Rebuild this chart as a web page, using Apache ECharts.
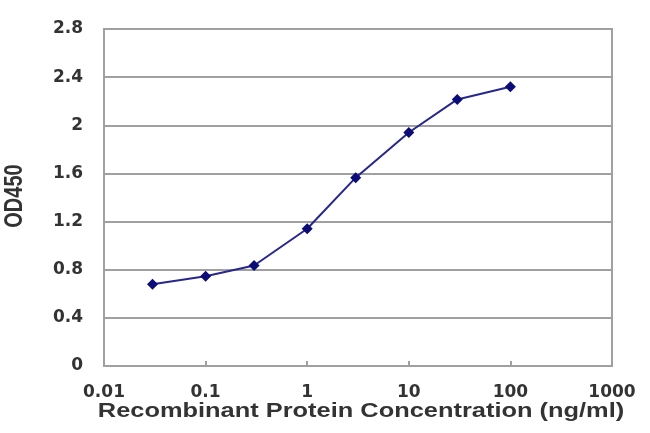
<!DOCTYPE html>
<html>
<head>
<meta charset="utf-8">
<script src="https://cdn.jsdelivr.net/npm/echarts@6/dist/echarts.min.js"></script>
<style>
  html, body { margin: 0; padding: 0; background: #fff; }
  #chart { width: 650px; height: 433px; }
</style>
</head>
<body>
<div id="chart"></div>
<script>
// concentration (ng/ml) and OD450 readings
const concentrations = [0.03, 0.1, 0.3, 1, 3, 10, 30, 100];
const od450 = [0.68, 0.745, 0.835, 1.14, 1.565, 1.94, 2.215, 2.32];
const xTitle = "Recombinant Protein Concentration (ng/ml)";
const yTitle = "OD450";

const points = concentrations.map((c, i) => [c, od450[i]]);

const chart = echarts.init(document.getElementById("chart"));
const labelFont = {
  color: "#333",
  fontFamily: "DejaVu Sans",
  fontWeight: "bold",
  fontSize: 17,
};

chart.setOption({
  animation: false,
  backgroundColor: "#fff",
  grid: {
    left: 104,
    right: 38,
    top: 29,
    bottom: 67,
    show: true,
    borderColor: "#a0a0a0",
    borderWidth: 2,
  },
  xAxis: {
    type: "log",
    logBase: 10,
    min: 0.01,
    max: 1000,
    axisLine: { lineStyle: { color: "#a0a0a0", width: 2 } },
    axisTick: { show: true, inside: true, length: 5, lineStyle: { color: "#a0a0a0", width: 2 } },
    minorTick: { show: false },
    splitLine: { show: false },
    axisLabel: Object.assign({ margin: 18, formatter: (v) => String(v) }, labelFont),
  },
  yAxis: {
    type: "value",
    min: 0,
    max: 2.8,
    interval: 0.4,
    axisLine: { show: true, lineStyle: { color: "#a0a0a0", width: 2 } },
    axisTick: { show: false },
    splitLine: { lineStyle: { color: "#a0a0a0", width: 2 } },
    axisLabel: Object.assign({ margin: 21 }, labelFont),
  },
  graphic: [
    {
      type: "text",
      x: 361,
      y: 411,
      scaleX: 1.27,
      style: {
        text: xTitle,
        fill: "#333",
        font: "bold 20px 'Liberation Sans'",
        textAlign: "center",
        textVerticalAlign: "middle",
      },
    },
    {
      type: "text",
      x: 15,
      y: 196,
      rotation: Math.PI / 2,
      scaleY: 1.3,
      style: {
        text: yTitle,
        fill: "#333",
        font: "bold 20px 'Liberation Sans'",
        textAlign: "center",
        textVerticalAlign: "middle",
      },
    },
  ],
  series: [
    {
      type: "line",
      data: points,
      symbol: "diamond",
      symbolSize: 11,
      itemStyle: { color: "#0c0c78" },
      lineStyle: { color: "#26268e", width: 2 },
    },
  ],
});
</script>
</body>
</html>
